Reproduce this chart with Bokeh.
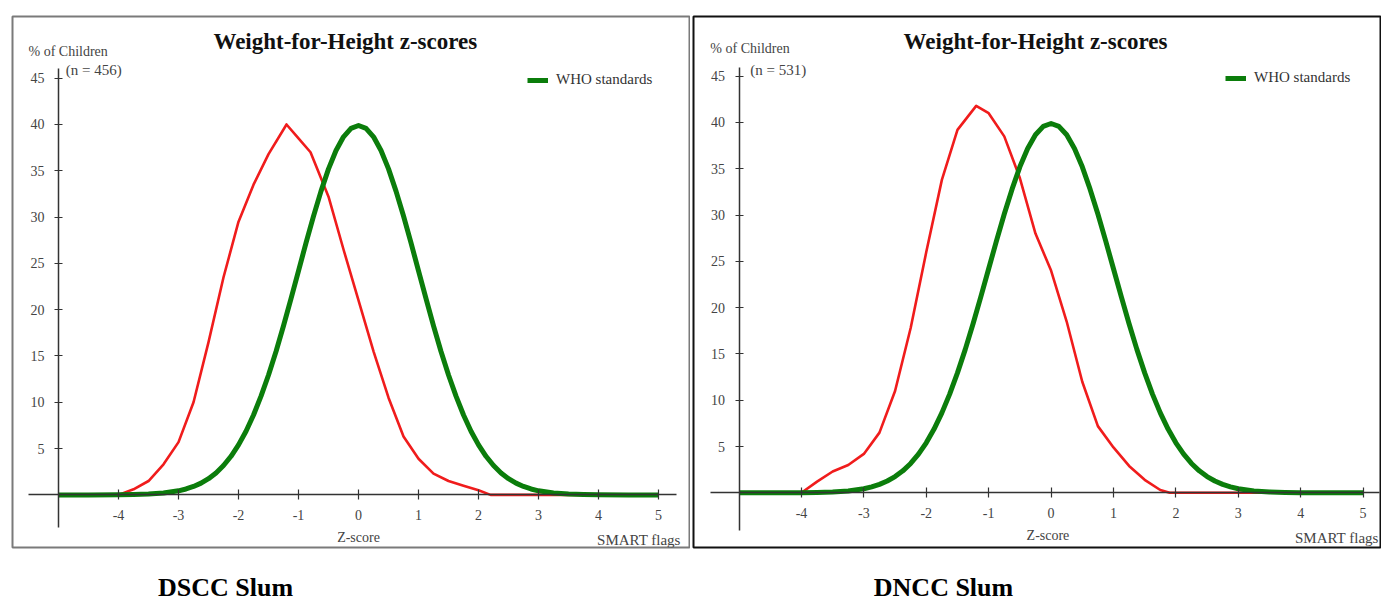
from bokeh.plotting import figure
from bokeh.models import Range1d, LinearAxis, FixedTicker, Label, Legend, LegendItem
from bokeh.layouts import row, column
from bokeh.embed import file_html
from bokeh.resources import INLINE

# ---------------- data ----------------
who_z = [-5.0, -4.5, -4.0, -3.75, -3.5, -3.25, -3.0, -2.875, -2.75, -2.625, -2.5, -2.375, -2.25,
         -2.125, -2.0, -1.875, -1.75, -1.625, -1.5, -1.375, -1.25, -1.125, -1.0, -0.875, -0.75,
         -0.625, -0.5, -0.375, -0.25, -0.125, 0.0, 0.125, 0.25, 0.375, 0.5, 0.625, 0.75, 0.875,
         1.0, 1.125, 1.25, 1.375, 1.5, 1.625, 1.75, 1.875, 2.0, 2.125, 2.25, 2.375, 2.5, 2.625,
         2.75, 2.875, 3.0, 3.25, 3.5, 3.75, 4.0, 4.5, 5.0]
who_pct = [0.0, 0.0, 0.01, 0.04, 0.09, 0.2, 0.44, 0.64, 0.91, 1.27, 1.75, 2.37, 3.17,
           4.17, 5.4, 6.88, 8.63, 10.66, 12.95, 15.49, 18.26, 21.19, 24.2, 27.21, 30.11,
           32.8, 35.21, 37.19, 38.67, 39.58, 39.89, 39.58, 38.67, 37.19, 35.21, 32.8, 30.11, 27.21,
           24.2, 21.19, 18.26, 15.49, 12.95, 10.66, 8.63, 6.88, 5.4, 4.17, 3.17, 2.37, 1.75, 1.27,
           0.91, 0.64, 0.44, 0.2, 0.09, 0.04, 0.01, 0.0, 0.0]

dscc_z = [-5.0, -4.5, -4.0, -3.75, -3.5, -3.25, -3.0, -2.75, -2.5, -2.25, -2.0, -1.75, -1.5,
          -1.2, -1.0, -0.8, -0.5, -0.25, 0.0, 0.25, 0.5, 0.75, 1.0, 1.25, 1.5, 1.75, 2.0,
          2.2, 2.5, 3.0, 3.5, 4.0, 4.5, 5.0]
dscc_pct = [0.0, 0.0, 0.0, 0.6, 1.5, 3.3, 5.7, 10.0, 16.5, 23.5, 29.5, 33.5, 36.8,
            40.0, 38.5, 37.0, 32.2, 26.5, 21.0, 15.5, 10.5, 6.3, 3.9, 2.3, 1.5, 1.0, 0.5,
            0.0, 0.0, 0.0, 0.0, 0.0, 0.0, 0.0]

dncc_z = [-5.0, -4.5, -4.0, -3.75, -3.5, -3.25, -3.0, -2.75, -2.5, -2.25, -2.0, -1.75, -1.5,
          -1.2, -1.0, -0.75, -0.5, -0.25, 0.0, 0.25, 0.5, 0.75, 1.0, 1.25, 1.5, 1.75, 1.9,
          2.5, 3.0, 3.5, 4.0, 4.5, 5.0]
dncc_pct = [0.0, 0.0, 0.0, 1.2, 2.3, 3.0, 4.2, 6.5, 11.0, 17.8, 26.0, 33.8, 39.2,
            41.8, 41.0, 38.5, 34.0, 28.0, 24.0, 18.5, 12.0, 7.2, 4.9, 2.9, 1.4, 0.3, 0.0,
            0.0, 0.0, 0.0, 0.0, 0.0, 0.0]

x_ticks = [-4, -3, -2, -1, 0, 1, 2, 3, 4, 5]
x_tick_labels = ["-4", "-3", "-2", "-1", "0", "1", "2", "3", "4", "5"]
y_ticks = [5, 10, 15, 20, 25, 30, 35, 40, 45]

MAIN_H = 553
CAP_H = 601 - MAIN_H

panels = [
    dict(name="DSCC Slum", n="(n = 456)", z=dscc_z, pct=dscc_pct,
         width=690, bl=12, bt=12, bb=MAIN_H - 547, outline="#7a7a7a", cap_x=225,
         xr=(-5.767, 5.533), yr=(-5.68, 51.66), xb=(-5.5, 5.3), yb=(-3.5, 46.0),
         pct_lab=(-5.5, 47.9), n_lab=(-4.88, 45.9), title=(-0.22, 49.0),
         zlab=(0.0, -4.6), smart=(5.37, -4.9), leg=(515, 459)),
    dict(name="DNCC Slum", n="(n = 531)", z=dncc_z, pct=dncc_pct,
         width=691, bl=3, bt=16, bb=MAIN_H - 550, outline="#111111", cap_x=253,
         xr=(-5.73, 5.295), yr=(-5.91, 51.45), xb=(-5.45, 5.27), yb=(-4.1, 45.9),
         pct_lab=(-5.46, 48.0), n_lab=(-4.82, 45.65), title=(-0.25, 48.7),
         zlab=(-0.05, -4.6), smart=(5.25, -4.85), leg=(532, 461)),
]

SERIF = "Liberation Serif"
figs = []
caps = []
for pn in panels:
    p = figure(width=pn["width"], height=MAIN_H, output_backend="svg", toolbar_location=None,
               x_axis_location=None, y_axis_location=None,
               x_range=Range1d(*pn["xr"]), y_range=Range1d(*pn["yr"]),
               min_border_left=pn["bl"], min_border_right=0,
               min_border_top=pn["bt"], min_border_bottom=pn["bb"])
    p.grid.visible = False
    p.outline_line_color = pn["outline"]
    p.outline_line_width = 2
    p.background_fill_color = "white"
    p.border_fill_color = "white"

    xa = LinearAxis(fixed_location=0, bounds=pn["xb"], ticker=FixedTicker(ticks=x_ticks))
    xa.major_label_overrides = {t: s for t, s in zip(x_ticks, x_tick_labels)}
    ya = LinearAxis(fixed_location=-5, bounds=pn["yb"], ticker=FixedTicker(ticks=y_ticks))
    for ax in (xa, ya):
        ax.axis_line_color = "#333333"
        ax.axis_line_width = 1.5
        ax.major_tick_line_color = "#333333"
        ax.major_tick_line_width = 1.2
        ax.major_tick_in = 4
        ax.major_tick_out = 4
        ax.minor_tick_line_color = None
        ax.major_label_text_font = SERIF
        ax.major_label_text_font_size = "14px"
        ax.major_label_text_color = "#444444"
        ax.major_label_standoff = 10
    xa.major_tick_in = 5
    xa.major_tick_out = 5
    p.add_layout(xa, "below")
    p.add_layout(ya, "left")

    red = p.line(pn["z"], pn["pct"], line_color="#f01c1c", line_width=2.6, line_join="round")
    green = p.line(who_z, who_pct, line_color="#0b7d0b", line_width=5, line_join="round")

    leg = Legend(items=[LegendItem(label="WHO standards", renderers=[green])],
                 location=pn["leg"], padding=0, margin=0, glyph_width=21, glyph_height=12,
                 label_height=12, label_standoff=8, border_line_alpha=0,
                 background_fill_alpha=0, label_text_font=SERIF,
                 label_text_font_size="15px", label_text_color="#333333")
    p.add_layout(leg)

    def lab(fig, xy, text, size, align="left", bold=False, color="#444444", font=SERIF):
        fig.add_layout(Label(x=xy[0], y=xy[1], text=text, text_font=font,
                             text_font_size=size, text_align=align, text_baseline="middle",
                             text_font_style="bold" if bold else "normal", text_color=color))

    lab(p, pn["pct_lab"], "% of Children", "14px")
    lab(p, pn["n_lab"], pn["n"], "15px")
    lab(p, pn["title"], "Weight-for-Height z-scores", "23px", align="center", bold=True, color="#111111")
    lab(p, pn["zlab"], "Z-score", "14px", align="center")
    lab(p, pn["smart"], "SMART flags", "15px", align="right")
    figs.append(p)

    # caption strip under the panel
    c = figure(width=pn["width"], height=CAP_H, output_backend="svg", toolbar_location=None,
               x_axis_location=None, y_axis_location=None,
               x_range=Range1d(0, pn["width"]), y_range=Range1d(0, CAP_H),
               min_border=0)
    c.grid.visible = False
    c.outline_line_color = None
    c.background_fill_color = "white"
    c.border_fill_color = "white"
    lab(c, (pn["cap_x"], 14), pn["name"], "26px", align="center", bold=True, color="#000000")
    caps.append(c)

layout = column(row(*figs, spacing=0), row(*caps, spacing=0), spacing=0)
open("out.html", "w").write(file_html(layout, INLINE))
